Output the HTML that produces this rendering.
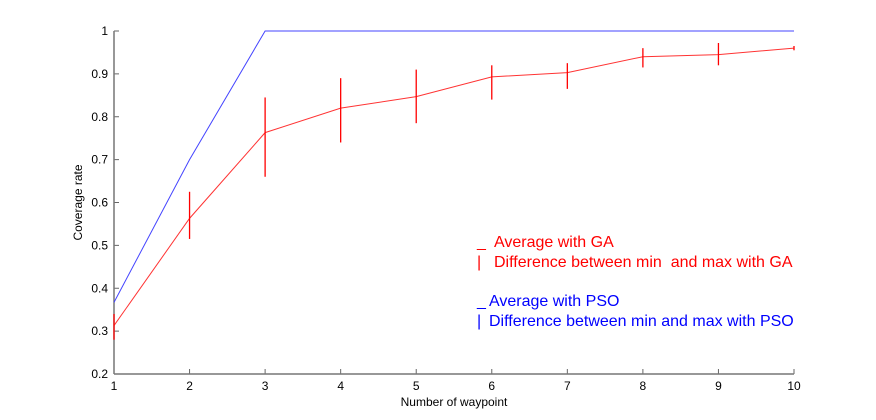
<!DOCTYPE html>
<html><head><meta charset="utf-8"><style>
body{margin:0;background:#fff}
svg{display:block;font-family:"Liberation Sans",Arial,sans-serif}
</style></head><body>
<svg id="chart" width="876" height="420" viewBox="0 0 876 420"></svg>
<script>
const categories=[1,2,3,4,5,6,7,8,9,10];
const gaAvg=[0.313,0.563,0.763,0.82,0.847,0.893,0.903,0.94,0.945,0.96];
const gaMin=[0.28,0.515,0.66,0.74,0.785,0.84,0.865,0.915,0.92,0.955];
const gaMax=[0.34,0.625,0.845,0.89,0.91,0.92,0.925,0.96,0.972,0.965];
const psoAvg=[0.367,0.7,1,1,1,1,1,1,1,1];
const yTicks=[0.2,0.3,0.4,0.5,0.6,0.7,0.8,0.9,1];
const yTickLabels=["0.2","0.3","0.4","0.5","0.6","0.7","0.8","0.9","1"];

const NS="http://www.w3.org/2000/svg";
const svg=document.getElementById('chart');
const X0=114,X1=794,Y0=374,Y1=31;
const xs=v=>X0+(v-1)/(9)*(X1-X0);
const ys=v=>Y0-(v-0.2)/0.8*(Y0-Y1);
function mk(tag,attrs,parent){const e=document.createElementNS(NS,tag);for(const k in attrs)e.setAttribute(k,attrs[k]);(parent||svg).appendChild(e);return e;}

const axes=mk('g',{});


yTicks.forEach((t,i)=>{
  const y=ys(t);
  const tk=mk('line',{x1:X0,x2:X0+5,y1:y,y2:y,stroke:'#666','stroke-width':1},axes);
  
  
  const tx=mk('text',{x:X0-6,y:y+4,'text-anchor':'end','font-size':12,fill:'#000'},axes);
  tx.textContent=yTickLabels[i];
  
  
});
categories.forEach(c=>{
  const x=xs(c);
  const tk=mk('line',{x1:x,x2:x,y1:Y0,y2:Y0-5,stroke:'#666','stroke-width':1},axes);
  
  
  const tx=mk('text',{x:x,y:Y0+16,'text-anchor':'middle','font-size':12,fill:'#000'},axes);
  tx.textContent=String(c);
  
  
});
const ya=mk('line',{x1:X0,x2:X0,y1:Y1,y2:Y0,stroke:'#777','stroke-width':1.5},axes);


const xa=mk('line',{x1:X0,x2:X1,y1:Y0,y2:Y0,stroke:'#777','stroke-width':1.5},axes);


const xt=mk('text',{x:(X0+X1)/2,y:406,'text-anchor':'middle','font-size':12},axes);
xt.textContent='Number of waypoint';


const ytt=mk('text',{x:82,y:(Y0+Y1)/2,'text-anchor':'middle','font-size':12,transform:`rotate(-90 82 ${(Y0+Y1)/2})`},axes);
ytt.textContent='Coverage rate';



const pso=mk('polyline',{points:categories.map((c,i)=>xs(c)+','+ys(psoAvg[i])).join(' '),fill:'none',stroke:'#4444ff','stroke-width':1});


const ga=mk('polyline',{points:categories.map((c,i)=>xs(c)+','+ys(gaAvg[i])).join(' '),fill:'none',stroke:'#ff3333','stroke-width':1});


categories.forEach((c,i)=>{
  const b=mk('line',{x1:xs(c),x2:xs(c),y1:ys(gaMin[i]),y2:ys(gaMax[i]),stroke:'#ff0000','stroke-width':1.3});
  
  
});

const leg=mk('g',{'font-size':16});


const items=[
 ['_','Average with GA','#ff0000',477,494,247],
 ['|','Difference between min\u00a0 and max with GA','#ff0000',477,494,267],
 ['_','Average with PSO','#0000ff',477,489,306],
 ['|','Difference between min and max with PSO','#0000ff',477,489,326]];
items.forEach(it=>{
  const s=mk('text',{x:it[3],y:it[5],fill:it[2]},leg);
  s.textContent=it[0];
  
  
  const t=mk('text',{x:it[4],y:it[5],fill:it[2]},leg);
  t.textContent=it[1];
  
  
});
</script>
</body></html>
